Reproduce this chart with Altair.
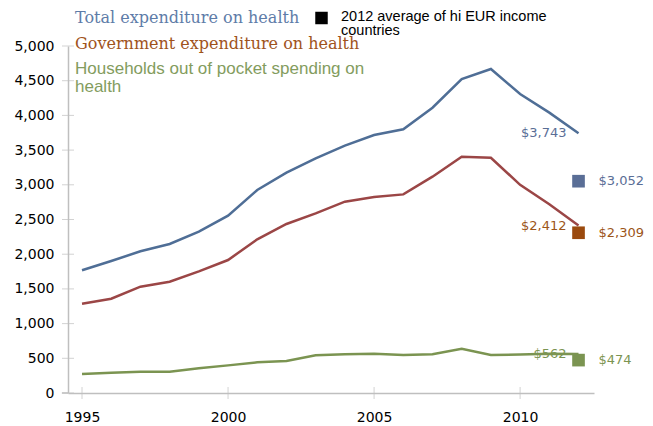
import altair as alt
import pandas as pd

years = list(range(1995, 2013))
total = [1768, 1902, 2042, 2147, 2324, 2555, 2925, 3174, 3381, 3564, 3718, 3800, 4111, 4524, 4669, 4308, 4040, 3743]
government = [1287, 1359, 1532, 1604, 1753, 1916, 2214, 2435, 2589, 2757, 2824, 2862, 3117, 3405, 3390, 3000, 2720, 2412]
households = [274, 293, 307, 307, 355, 398, 442, 461, 543, 557, 566, 547, 557, 638, 547, 555, 565, 562]

series_names = ["Total", "Government", "Households"]
line_colors = ["#4F6E96", "#9B4646", "#7B9451"]
label_colors = ["#5A6E96", "#9C5519", "#7B9451"]
square_colors = ["#5A6E96", "#9B4A0E", "#7B9451"]
avg_2012 = [3052, 2309, 474]
last_2012 = [3743, 2412, 562]

y_ticks = [0, 500, 1000, 1500, 2000, 2500, 3000, 3500, 4000, 4500, 5000]
x_ticks = [1995, 2000, 2005, 2010]

rows = []
for name, vals in zip(series_names, [total, government, households]):
    for y, v in zip(years, vals):
        rows.append({"year": y, "value": v, "series": name})
df = pd.DataFrame(rows)

end_df = pd.DataFrame({"series": series_names, "year": [2012] * 3, "last": last_2012,
                       "avg": avg_2012,
                       "lcol": label_colors, "scol": square_colors,
                       "last_lbl": ["$" + format(v, ",") for v in last_2012],
                       "avg_lbl": ["$" + format(v, ",") for v in avg_2012]})

W, H = 526, 347
X0, X1 = 1994.52, 2012.53
xscale = alt.Scale(domain=[X0, X1], nice=False, zero=False)
yscale = alt.Scale(domain=[0, 5000], nice=False)
cscale = alt.Scale(domain=series_names, range=line_colors)

font_num = "DejaVu Sans"
axis_col = "#BFBFBF"

xaxis = alt.Axis(values=x_ticks, format="d", title=None, grid=False, ticks=False,
                 domainColor=axis_col, domainWidth=1.5, labelPadding=17,
                 labelFont=font_num, labelFontSize=14, labelColor="#000000",
                 labelOverlap=False)
yaxis = alt.Axis(values=y_ticks, format=",d", title=None, grid=False, ticks=False,
                 domainColor=axis_col, domainWidth=1.5, labelPadding=14,
                 labelFont=font_num, labelFontSize=14, labelColor="#000000",
                 labelOverlap=False, labelFlush=False)


def X(field):
    return alt.X(field, scale=xscale, axis=xaxis)


def Y(field):
    return alt.Y(field, scale=yscale, axis=yaxis)


lines = alt.Chart(df).mark_line(strokeWidth=2.5).encode(
    x=X("year:Q"), y=Y("value:Q"),
    color=alt.Color("series:N", scale=cscale, legend=None),
)

ytick_df = pd.DataFrame({"v": y_ticks, "x": [X0] * len(y_ticks)})
ytick_marks = alt.Chart(ytick_df).mark_tick(orient="horizontal", size=12, thickness=1, color=axis_col).encode(
    x=X("x:Q"), y=Y("v:Q"))
xtick_df = pd.DataFrame({"yr": x_ticks, "y": [0] * len(x_ticks)})
xtick_marks = alt.Chart(xtick_df).mark_tick(orient="vertical", size=12, thickness=1, color=axis_col).encode(
    x=X("yr:Q"), y=Y("y:Q"))
ext_df = pd.DataFrame({"a": [1994.31], "b": [X0], "y": [0]})
x_ext = alt.Chart(ext_df).mark_rule(strokeWidth=1.5, color=axis_col).encode(
    x=X("a:Q"), x2="b:Q", y=Y("y:Q"))

squares = alt.Chart(end_df).mark_square(size=160, opacity=1).encode(
    x=X("year:Q"), y=Y("avg:Q"),
    color=alt.Color("scol:N", scale=None))

avg_labels = alt.Chart(end_df).mark_text(align="left", baseline="middle", dx=20,
                                         font=font_num, fontSize=13).encode(
    x=X("year:Q"), y=Y("avg:Q"), text="avg_lbl:N",
    color=alt.Color("lcol:N", scale=None))

last_labels = alt.Chart(end_df).mark_text(align="right", baseline="middle", dx=-12,
                                          font=font_num, fontSize=13).encode(
    x=X("year:Q"), y=Y("last:Q"), text="last_lbl:N",
    color=alt.Color("lcol:N", scale=None))


def txt(s, x, y, color, font, size):
    return alt.Chart(pd.DataFrame({"t": [s]})).mark_text(
        align="left", baseline="middle", font=font, fontSize=size, color=color).encode(
        x=alt.value(x), y=alt.value(y), text="t:N")


titles = [
    txt("Total expenditure on health", 7, -28, "#5E7CA8", "DejaVu Serif", 16),
    txt("Government expenditure on health", 7, -2, "#A0531C", "DejaVu Serif", 16),
    txt("Households out of pocket spending on", 7, 23, "#839C5E", "Liberation Sans", 17),
    txt("health", 7, 41, "#839C5E", "Liberation Sans", 17),
    txt("2012 average of hi EUR income", 273, -29.5, "#000000", "Liberation Sans", 14.5),
    txt("countries", 273, -15, "#000000", "Liberation Sans", 14.5),
]
black_sq = alt.Chart(pd.DataFrame({"t": ["k"]})).mark_square(size=156, color="#000000", opacity=1).encode(
    x=alt.value(253.5), y=alt.value(-28))

chart = alt.layer(lines, x_ext, ytick_marks, xtick_marks, last_labels, squares, avg_labels, black_sq, *titles).properties(
    width=W, height=H,
    autosize=alt.AutoSizeParams(type="none"),
    padding={"left": 60, "top": 38, "right": 51, "bottom": 30},
).configure_view(stroke=None)

chart.save("out.html", embed_options={"renderer": "svg", "actions": False})
